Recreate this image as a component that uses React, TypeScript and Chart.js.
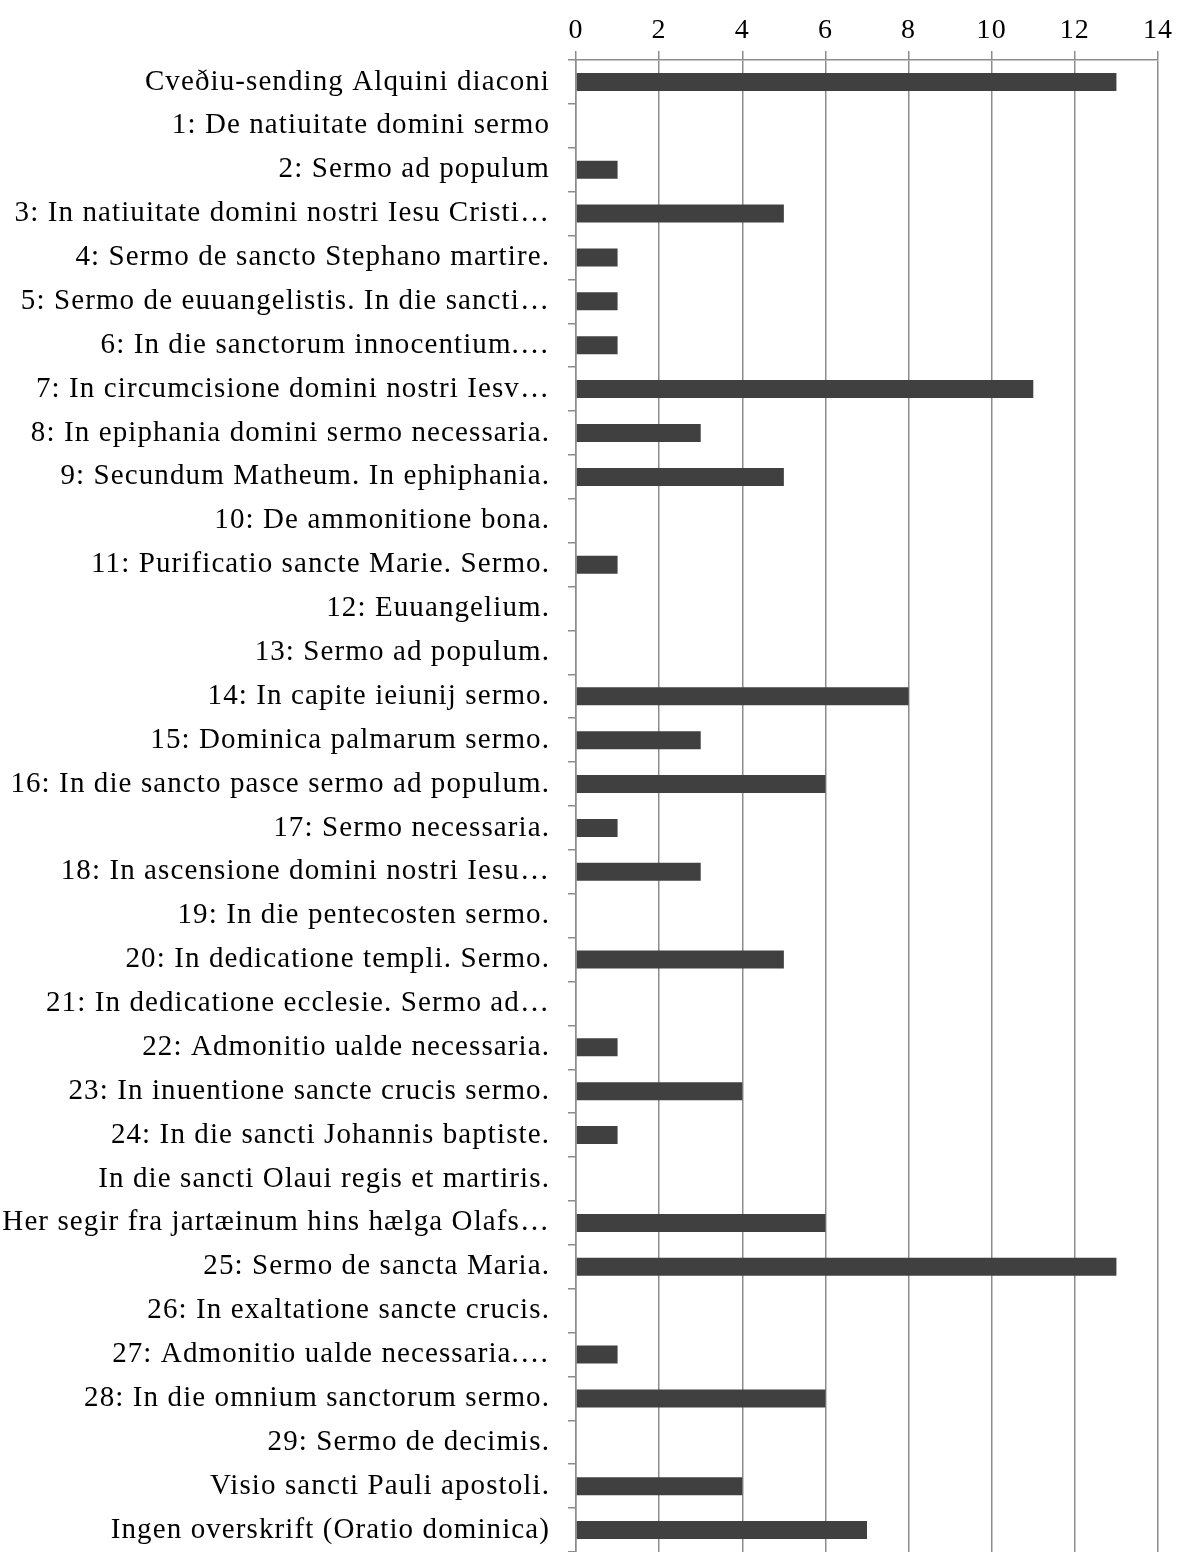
import React, { useEffect, useRef } from "react";
import { Chart, registerables } from "chart.js";

Chart.register(...registerables);

const categories: string[] = [
  "Cveðiu-sending Alquini diaconi",
  "1: De natiuitate domini sermo",
  "2: Sermo ad populum",
  "3: In natiuitate domini nostri Iesu Cristi…",
  "4: Sermo de sancto Stephano martire.",
  "5: Sermo de euuangelistis. In die sancti…",
  "6: In die sanctorum innocentium.…",
  "7: In circumcisione domini nostri Iesv…",
  "8: In epiphania domini sermo necessaria.",
  "9: Secundum Matheum. In ephiphania.",
  "10: De ammonitione bona.",
  "11: Purificatio sancte Marie. Sermo.",
  "12: Euuangelium.",
  "13: Sermo ad populum.",
  "14: In capite ieiunij sermo.",
  "15: Dominica palmarum sermo.",
  "16: In die sancto pasce sermo ad populum.",
  "17: Sermo necessaria.",
  "18: In ascensione domini nostri Iesu…",
  "19: In die pentecosten sermo.",
  "20: In dedicatione templi. Sermo.",
  "21: In dedicatione ecclesie. Sermo ad…",
  "22: Admonitio ualde necessaria.",
  "23: In inuentione sancte crucis sermo.",
  "24: In die sancti Johannis baptiste.",
  "In die sancti Olaui regis et martiris.",
  "Her segir fra jartæinum hins hælga Olafs…",
  "25: Sermo de sancta Maria.",
  "26: In exaltatione sancte crucis.",
  "27: Admonitio ualde necessaria.…",
  "28: In die omnium sanctorum sermo.",
  "29: Sermo de decimis.",
  "Visio sancti Pauli apostoli.",
  "Ingen overskrift (Oratio dominica)",
];

const values: number[] = [
  13, 0, 1, 5, 1, 1, 1, 11, 3, 5, 0, 1, 0, 0, 8, 3, 6, 1, 3, 0, 5, 0, 1, 4, 1, 0, 6, 13, 0, 1, 6, 0, 4, 7,
];

const xMin = 0;
const xMax = 14;
const xStep = 2;

const FONT = "'Liberation Serif', 'DejaVu Serif', serif";

const spacingPlugin = {
  id: "labelSpacing",
  beforeDraw(chart: any) {
    (chart.ctx as any).letterSpacing = "1.1px";
  },
  afterDraw(chart: any) {
    (chart.ctx as any).letterSpacing = "0px";
  },
};

export default function App() {
  const ref = useRef<HTMLCanvasElement | null>(null);

  useEffect(() => {
    document.body.style.margin = "0";
    const canvas = ref.current;
    if (!canvas) return;
    const chart = new Chart(canvas, {
      type: "bar",
      data: {
        labels: categories,
        datasets: [
          {
            data: values,
            backgroundColor: "#404040",
            borderWidth: 0,
            barPercentage: 0.41,
            categoryPercentage: 1,
          },
        ],
      },
      plugins: [spacingPlugin],
      options: {
        indexAxis: "y",
        animation: false,
        responsive: false,
        maintainAspectRatio: false,
        layout: { padding: { left: 0, right: 23, top: 0, bottom: 0 } },
        plugins: {
          legend: { display: false },
          tooltip: { enabled: false },
        },
        scales: {
          x: {
            position: "top",
            min: xMin,
            max: xMax,
            ticks: {
              stepSize: xStep,
              color: "#000",
              font: { family: FONT, size: 28 },
              padding: 4,
            },
            grid: {
              color: "#8c8c8c",
              lineWidth: 1.5,
              tickLength: 9,
              drawTicks: true,
            },
            border: { color: "#8c8c8c", width: 1.5 },
            afterFit: (scale: any) => {
              scale.height = 60;
            },
          },
          y: {
            offset: true,
            ticks: {
              color: "#000",
              font: { family: FONT, size: 29 },
              padding: 18,
              autoSkip: false,
            },
            grid: {
              offset: true,
              drawOnChartArea: false,
              color: "#8c8c8c",
              lineWidth: 1.5,
              tickLength: 8,
            },
            border: { color: "#8c8c8c", width: 1.5 },
            afterFit: (scale: any) => {
              scale.width = 576;
              scale.paddingTop = 0;
              scale.paddingBottom = 0;
            },
          },
        },
      },
    });
    return () => chart.destroy();
  }, []);

  return (
    <div style={{ width: 1181, height: 1552 }}>
      <canvas ref={ref} width={1181} height={1552} style={{ display: "block" }} />
    </div>
  );
}
